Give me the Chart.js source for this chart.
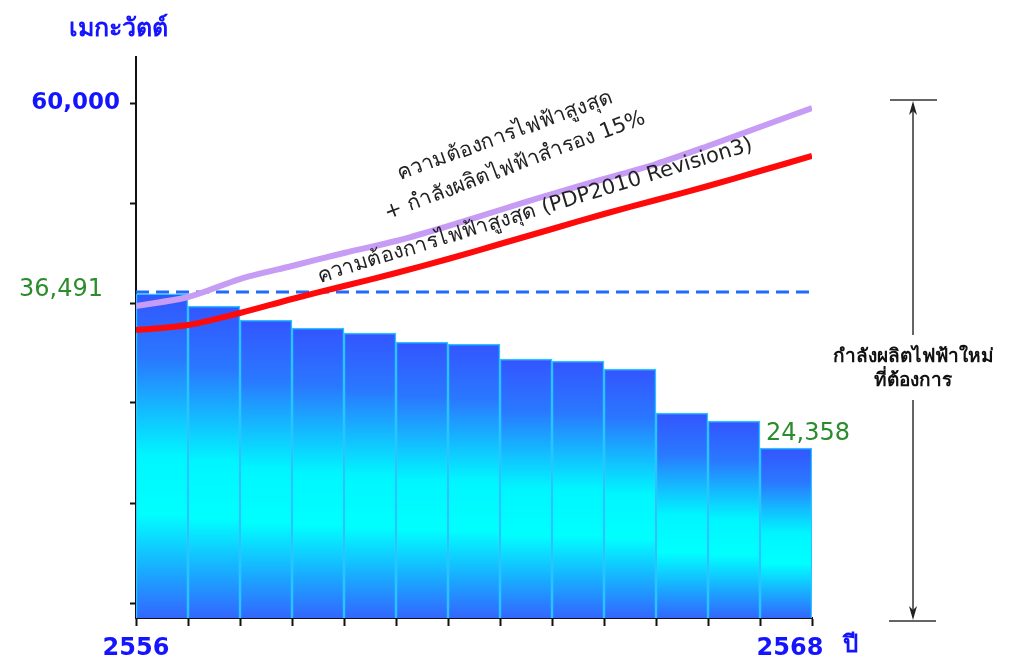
<!DOCTYPE html>
<html>
<head>
<meta charset="utf-8">
<script src="https://cdn.jsdelivr.net/npm/chart.js@4/dist/chart.umd.min.js"></script>
<style>
  html, body { margin: 0; padding: 0; background: #ffffff; }
  #wrap { width: 1011px; height: 660px; }
</style>
</head>
<body>
<div id="wrap"><canvas id="my_chart" width="1011" height="660"></canvas></div>
<script>
(function() {
  'use strict';

  // ปี พ.ศ.
  var years = ['2556', '2557', '2558', '2559', '2560', '2561', '2562', '2563', '2564', '2565', '2566', '2567', '2568'];
  // กำลังผลิตที่มีอยู่ (MW, อ่านจากสเกลของแกน)
  var capacity = [37100, 35640, 33960, 33000, 32400, 31320, 31080, 29280, 29040, 28080, 22800, 21840, 18600];
  // จุดของเส้น (ขอบของแต่ละปี)
  var lineX = [0, 1, 2, 3, 4, 5, 6, 7, 8, 9, 10, 11, 12, 13];
  var peakDemand = [32760, 33360, 34800, 36480, 38040, 39600, 41280, 43080, 44880, 46680, 48360, 50040, 51840, 53640];
  var demandReserve = [35640, 36720, 38880, 40440, 42000, 43440, 45240, 47160, 49080, 50880, 52680, 54840, 57120, 59400];
  var existingX = [0, 13];
  var existingLevel = [37320, 37320];
  var yTicks = [0, 12000, 24000, 36000, 48000, 60000];
  var yMin = -1800;
  var yMax = 65520;

  var unitLabel = 'เมกะวัตต์';
  var yearUnit = 'ปี';
  var startLabel = '36,491';
  var endLabel = '24,358';
  var reserveText = ['ความต้องการไฟฟ้าสูงสุด', '+ กำลังผลิตไฟฟ้าสำรอง 15%'];
  var demandText = 'ความต้องการไฟฟ้าสูงสุด (PDP2010 Revision3)';
  var newCapText = ['กำลังผลิตไฟฟ้าใหม่', 'ที่ต้องการ'];

  var FONT = 'Tahoma, Verdana, "DejaVu Sans", "Noto Sans", sans-serif';
  var BLUE = '#1414ff';
  var GREEN = '#2a8c2a';

  function pts(xs, ys) {
    return xs.map(function(x, i) { return { x: x, y: ys[i] }; });
  }

  function barFill(c) {
    var chart = c.chart;
    var area = chart.chartArea;
    if (!area || c.raw == null) return '#3366ff';
    var top = chart.scales.y.getPixelForValue(c.raw);
    var g = chart.ctx.createLinearGradient(0, top, 0, area.bottom);
    g.addColorStop(0, '#3355ff');
    g.addColorStop(0.2, '#2a78ff');
    g.addColorStop(0.5, '#00f6ff');
    g.addColorStop(0.68, '#00ffff');
    g.addColorStop(0.86, '#1aa8ff');
    g.addColorStop(1, '#3366ff');
    return g;
  }

  function drawArrowHead(ctx, x, y, dir) {
    ctx.beginPath();
    ctx.moveTo(x, y);
    ctx.lineTo(x - 4, y + dir * 14);
    ctx.lineTo(x, y + dir * 10);
    ctx.lineTo(x + 4, y + dir * 14);
    ctx.closePath();
    ctx.fill();
  }

  function rotatedText(ctx, text, x, y, deg) {
    ctx.save();
    ctx.translate(x, y);
    ctx.rotate(-deg * Math.PI / 180);
    ctx.fillText(text, 0, 0);
    ctx.restore();
  }

  var annotations = {
    id: 'annotations',
    afterDraw: function(chart) {
      var ctx = chart.ctx;
      var area = chart.chartArea;
      var xs = chart.scales.x;
      var ys = chart.scales.y;
      var x2 = chart.scales.x2;
      ctx.save();

      // หน่วยแกนตั้ง
      ctx.fillStyle = BLUE;
      ctx.font = 'bold 25px ' + FONT;
      ctx.textAlign = 'center';
      ctx.textBaseline = 'middle';
      ctx.fillText(unitLabel, area.left - 18, 29);

      // ปีเริ่มต้น / สิ้นสุด
      ctx.font = 'bold 24px ' + FONT;
      ctx.fillText(years[0], area.left, 649);
      var lastX = xs.getPixelForValue(years.length - 1);
      ctx.fillText(years[years.length - 1], lastX + 4, 649);
      ctx.fillText(yearUnit, lastX + 64, 646);

      // ค่ากำลังผลิต
      ctx.fillStyle = GREEN;
      ctx.font = '24px ' + FONT;
      ctx.textAlign = 'right';
      ctx.fillText(startLabel, 103, ys.getPixelForValue(existingLevel[0]) - 2);
      ctx.textAlign = 'left';
      ctx.textBaseline = 'alphabetic';
      ctx.fillText(endLabel, x2.getPixelForValue(12) + 6, ys.getPixelForValue(capacity[capacity.length - 1]) - 8);

      // ข้อความตามเส้น
      ctx.fillStyle = '#222222';
      ctx.font = '21px ' + FONT;
      ctx.textAlign = 'center';
      ctx.textBaseline = 'middle';
      rotatedText(ctx, reserveText[0], 505, 136, 20);
      rotatedText(ctx, reserveText[1], 515, 166, 20.5);
      rotatedText(ctx, demandText, 535, 211, 17);

      // ลูกศรกำลังผลิตใหม่
      var ax = area.right + 101;
      var aTop = ys.getPixelForValue(60000) - 3;
      var aBot = area.bottom + 3;
      ctx.strokeStyle = '#333333';
      ctx.fillStyle = '#222222';
      ctx.lineWidth = 1.5;
      ctx.beginPath();
      ctx.moveTo(ax - 23, aTop); ctx.lineTo(ax + 24, aTop);
      ctx.moveTo(ax - 24, aBot); ctx.lineTo(ax + 23, aBot);
      ctx.moveTo(ax, aTop + 4); ctx.lineTo(ax, 335);
      ctx.moveTo(ax, 400); ctx.lineTo(ax, aBot - 4);
      ctx.stroke();
      drawArrowHead(ctx, ax, aTop + 1, 1);
      drawArrowHead(ctx, ax, aBot - 1, -1);
      ctx.fillStyle = '#111111';
      ctx.font = 'bold 19px ' + FONT;
      ctx.fillText(newCapText[0], ax, 357);
      ctx.fillText(newCapText[1], ax, 381);

      ctx.restore();
    }
  };

  var ctx = document.getElementById('my_chart').getContext('2d');
  new Chart(ctx, {
    type: 'bar',
    data: {
      labels: years,
      datasets: [{
        type: 'line',
        data: pts(lineX, demandReserve),
        xAxisID: 'x2',
        borderColor: '#c79cf5',
        borderWidth: 6,
        pointRadius: 0,
        tension: 0.3,
        order: 1
      }, {
        type: 'line',
        data: pts(lineX, peakDemand),
        xAxisID: 'x2',
        borderColor: '#ff0a0a',
        borderWidth: 6,
        pointRadius: 0,
        tension: 0.3,
        order: 0
      }, {
        type: 'line',
        data: pts(existingX, existingLevel),
        xAxisID: 'x2',
        borderColor: '#1f6bff',
        borderWidth: 3,
        borderDash: [13, 7],
        pointRadius: 0,
        order: 2
      }, {
        data: capacity,
        xAxisID: 'x',
        base: yMin,
        backgroundColor: barFill,
        borderColor: '#24c6ff',
        borderWidth: 1.5,
        grouped: false,
        barPercentage: 1,
        categoryPercentage: 1,
        order: 3
      }]
    },
    options: {
      responsive: false,
      animation: false,
      layout: { padding: { top: 57, right: 199, left: 0, bottom: 0 } },
      plugins: {
        legend: { display: false },
        tooltip: { enabled: false }
      },
      scales: {
        x: {
          offset: true,
          grid: {
            offset: true,
            drawOnChartArea: false,
            tickLength: 8,
            tickWidth: 2,
            color: '#111111'
          },
          border: { display: true, color: '#111111', width: 2 },
          ticks: { display: false },
          afterFit: function(scale) { scale.height = 42; }
        },
        x2: {
          type: 'linear',
          min: 0,
          max: 13,
          offset: false,
          grid: { offset: false },
          display: false
        },
        y: {
          min: yMin,
          max: yMax,
          afterBuildTicks: function(scale) {
            scale.ticks = yTicks.map(function(v) { return { value: v }; });
          },
          grid: {
            drawOnChartArea: false,
            tickLength: 6,
            tickWidth: 2,
            color: '#111111'
          },
          border: { display: true, color: '#111111', width: 2 },
          ticks: {
            color: BLUE,
            padding: 10,
            font: { family: FONT, size: 23, weight: 'bold' },
            callback: function(v) { return v === 60000 ? '60,000' : ''; }
          },
          afterFit: function(scale) { scale.width = 136; }
        }
      }
    },
    plugins: [annotations]
  });
})();
</script>
</body>
</html>
